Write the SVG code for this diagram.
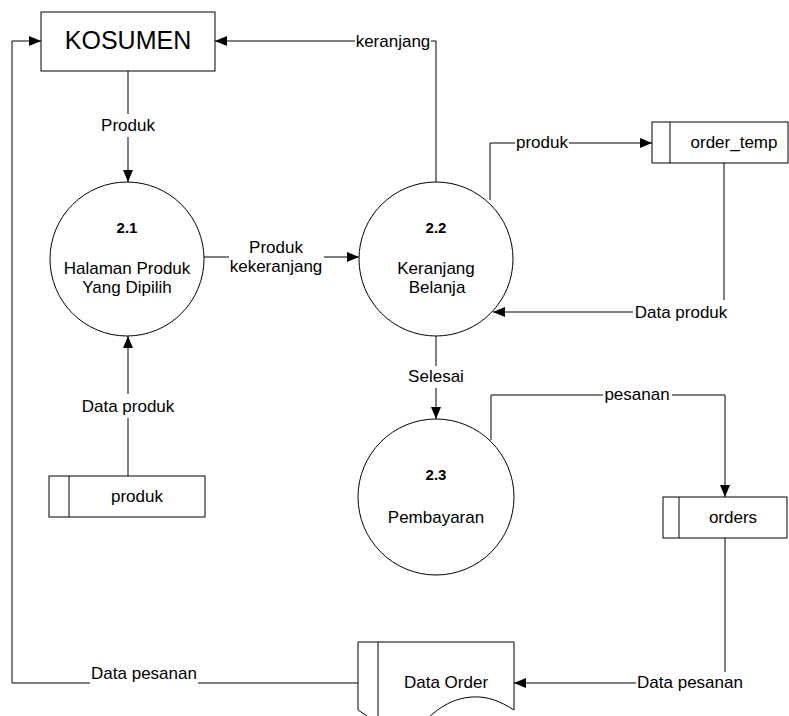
<svg xmlns="http://www.w3.org/2000/svg" width="789" height="716" viewBox="0 0 789 716">
  <style>
    text { font-family: "Liberation Sans", Arial, sans-serif; font-size: 17px; fill: #000; }
    .mid { text-anchor: middle; }
    .num { font-weight: bold; font-size: 15px; }
    .big { font-size: 25px; }
    .shape { fill: #fff; stroke: #000; stroke-width: 1; }
    .flow { fill: none; stroke: #000; stroke-width: 1; }
  </style>
  <defs>
    <marker id="arrow" markerUnits="userSpaceOnUse" markerWidth="12" markerHeight="10" refX="12" refY="5" orient="auto">
      <path d="M0,0 L12,5 L0,10 z" fill="#000"/>
    </marker>
  </defs>
  <rect width="789" height="716" fill="#fff"/>

  <g id="connectors">
    <!-- Data pesanan back to KOSUMEN -->
    <polyline class="flow" points="358,683 198,683"/>
    <polyline class="flow" points="90,683 12,683 12,41 41,41" marker-end="url(#arrow)"/>
    <!-- keranjang -->
    <polyline class="flow" points="436,182 436,41 431,41"/>
    <line class="flow" x1="355" y1="41" x2="215" y2="41" marker-end="url(#arrow)"/>
    <!-- Produk -->
    <line class="flow" x1="128" y1="71" x2="128" y2="114"/>
    <line class="flow" x1="128" y1="137" x2="128" y2="182" marker-end="url(#arrow)"/>
    <!-- Produk kekeranjang -->
    <line class="flow" x1="204" y1="257" x2="229" y2="257"/>
    <line class="flow" x1="324" y1="257" x2="359" y2="257" marker-end="url(#arrow)"/>
    <!-- Data produk from produk store -->
    <line class="flow" x1="128" y1="476" x2="128" y2="418"/>
    <line class="flow" x1="128" y1="394" x2="128" y2="336" marker-end="url(#arrow)"/>
    <!-- produk to order_temp -->
    <polyline class="flow" points="490,200 490,143 515,143"/>
    <line class="flow" x1="569" y1="143" x2="652" y2="143" marker-end="url(#arrow)"/>
    <!-- Data produk from order_temp -->
    <polyline class="flow" points="724,163 724,300"/>
    <line class="flow" x1="633" y1="312" x2="493" y2="312" marker-end="url(#arrow)"/>
    <!-- Selesai -->
    <line class="flow" x1="436" y1="336" x2="436" y2="366"/>
    <line class="flow" x1="436" y1="388" x2="436" y2="419" marker-end="url(#arrow)"/>
    <!-- pesanan -->
    <polyline class="flow" points="491,440 491,395 603,395"/>
    <polyline class="flow" points="672,395 725,395 725,497" marker-end="url(#arrow)"/>
    <!-- Data pesanan to Data Order -->
    <line class="flow" x1="725" y1="538" x2="725" y2="672"/>
    <line class="flow" x1="636" y1="683" x2="514" y2="683" marker-end="url(#arrow)"/>
  </g>

  <g id="labels">
    <text x="393" y="47" class="mid">keranjang</text>
    <text x="128" y="131" class="mid">Produk</text>
    <text x="276" y="253" class="mid">Produk</text>
    <text x="276" y="272" class="mid">kekeranjang</text>
    <text x="128" y="412" class="mid">Data produk</text>
    <text x="542" y="148" class="mid">produk</text>
    <text x="681" y="318" class="mid">Data produk</text>
    <text x="436" y="382" class="mid">Selesai</text>
    <text x="637" y="400" class="mid">pesanan</text>
    <text x="144" y="679" class="mid">Data pesanan</text>
    <text x="690" y="688" class="mid">Data pesanan</text>
  </g>

  <g id="kosumen">
    <rect class="shape" x="41" y="12" width="174" height="59"/>
    <text x="128" y="49" class="mid big">KOSUMEN</text>
  </g>

  <g id="p2-1">
    <circle class="shape" cx="127" cy="259" r="77"/>
    <text x="127" y="233" class="mid num">2.1</text>
    <text x="127" y="274" class="mid">Halaman Produk</text>
    <text x="127" y="293" class="mid">Yang Dipilih</text>
  </g>

  <g id="p2-2">
    <circle class="shape" cx="436" cy="259" r="77"/>
    <text x="436" y="233" class="mid num">2.2</text>
    <text x="436" y="274" class="mid">Keranjang</text>
    <text x="437" y="293" class="mid">Belanja</text>
  </g>

  <g id="p2-3">
    <circle class="shape" cx="436" cy="497" r="78"/>
    <text x="436" y="480" class="mid num">2.3</text>
    <text x="436" y="523" class="mid">Pembayaran</text>
  </g>

  <g id="store-order-temp">
    <rect class="shape" x="652" y="122" width="136" height="41"/>
    <line class="flow" x1="670" y1="122" x2="670" y2="163"/>
    <text x="734" y="148" class="mid">order_temp</text>
  </g>

  <g id="store-produk">
    <rect class="shape" x="49" y="476" width="156" height="41"/>
    <line class="flow" x1="69" y1="476" x2="69" y2="517"/>
    <text x="137" y="502" class="mid">produk</text>
  </g>

  <g id="store-orders">
    <rect class="shape" x="663" y="497" width="124" height="41"/>
    <line class="flow" x1="679" y1="497" x2="679" y2="538"/>
    <text x="733" y="523" class="mid">orders</text>
  </g>

  <g id="data-order">
    <path class="shape" d="M358,642 H514 V710 C500,701 487,696 472,697 C455,698 440,706 426,720 L420,740 L380,740 L370,718 L358,710 Z"/>
    <line class="flow" x1="378" y1="642" x2="378" y2="716"/>
    <text x="446" y="688" class="mid">Data Order</text>
  </g>
</svg>
